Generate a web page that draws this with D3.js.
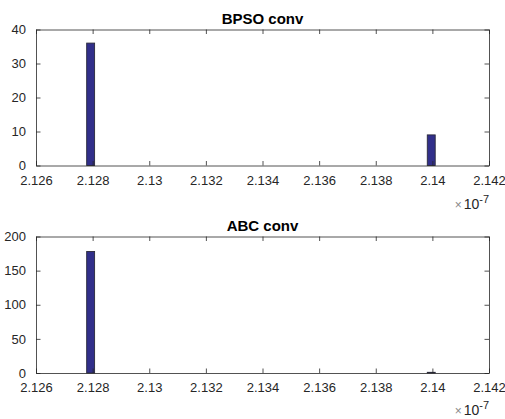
<!DOCTYPE html>
<html>
<head>
<meta charset="utf-8">
<script src="https://d3js.org/d3.v7.min.js"></script>
<style>
  html, body { margin: 0; padding: 0; background: #ffffff; }
  svg { display: block; }
  text { font-family: "Liberation Sans", Arial, Helvetica, sans-serif; }
</style>
</head>
<body>
<svg id="chart" width="505" height="419"></svg>
<script>
// ---- data (x values in units of 1e-7) ----
const xTickValues = [2.126, 2.128, 2.130, 2.132, 2.134, 2.136, 2.138, 2.140, 2.142];
const xTickLabels = ["2.126", "2.128", "2.13", "2.132", "2.134", "2.136", "2.138", "2.14", "2.142"];
const binStart = 2.12779;
const binEnd = 2.14010;
const bpsoCounts = [36, 0, 0, 0, 0, 0, 0, 0, 0, 0, 0, 0, 0, 0, 0, 0, 0, 0, 0, 0, 0, 0,
                    0, 0, 0, 0, 0, 0, 0, 0, 0, 0, 0, 0, 0, 0, 0, 0, 0, 0, 0, 0, 0, 9];
const abcCounts  = [178, 0, 0, 0, 0, 0, 0, 0, 0, 0, 0, 0, 0, 0, 0, 0, 0, 0, 0, 0, 0, 0,
                    0, 0, 0, 0, 0, 0, 0, 0, 0, 0, 0, 0, 0, 0, 0, 0, 0, 0, 0, 0, 0, 1];
const bpsoYTicks = [0, 10, 20, 30, 40];
const abcYTicks  = [0, 50, 100, 150, 200];
const titles = ["BPSO conv", "ABC conv"];

// ---- drawing ----
const svg = d3.select("#chart");
const axisColor = "#262626";
const barFill = "#312f8a";
const barStroke = "#2a2a3a";
const left = 36, right = 489;
const tickLen = 4.5;

const x = d3.scaleLinear().domain([2.126, 2.142]).range([left, right]);

function drawPanel(top, bottom, title, counts, yTicks, expOffset) {
  const g = svg.append("g");
  const y = d3.scaleLinear().domain([yTicks[0], yTicks[yTicks.length - 1]]).range([bottom, top]);
  const nb = counts.length;
  const bw = (binEnd - binStart) / nb;
  const bins = counts.map((c, i) => ({x0: binStart + i * bw, x1: binStart + (i + 1) * bw, c}));

  g.append("g").selectAll("rect").data(bins).join("rect")
    .attr("x", d => x(d.x0))
    .attr("width", d => x(d.x1) - x(d.x0))
    .attr("y", d => y(d.c))
    .attr("height", d => y(0) - y(d.c))
    .attr("fill", barFill)
    .attr("stroke", barStroke)
    .attr("stroke-width", 0.9);

  const xb = d3.axisBottom(x).tickValues(xTickValues)
    .tickFormat((d, i) => xTickLabels[i]).tickSizeInner(-tickLen).tickSizeOuter(0).tickPadding(10);
  const gxb = g.append("g").attr("transform", `translate(0,${bottom})`).call(xb);
  const xt = d3.axisTop(x).tickValues(xTickValues).tickFormat("").tickSizeInner(-tickLen).tickSizeOuter(0);
  const gxt = g.append("g").attr("transform", `translate(0,${top})`).call(xt);
  const yl = d3.axisLeft(y).tickValues(yTicks).tickFormat(d3.format("d"))
    .tickSizeInner(-tickLen).tickSizeOuter(0).tickPadding(10);
  const gyl = g.append("g").attr("transform", `translate(${left},0)`).call(yl);
  const yr = d3.axisRight(y).tickValues(yTicks).tickFormat("").tickSizeInner(-tickLen).tickSizeOuter(0);
  const gyr = g.append("g").attr("transform", `translate(${right},0)`).call(yr);

  [gxb, gxt, gyl, gyr].forEach(a => {
    a.select(".domain").attr("stroke", axisColor).attr("stroke-width", 0.8);
    a.selectAll(".tick line").attr("stroke", axisColor).attr("stroke-width", 0.8);
    a.selectAll(".tick text").attr("fill", axisColor).style("font-size", "13px");
  });
  gxb.selectAll(".tick text").attr("dy", "0.71em");

  g.append("text")
    .attr("x", (left + right) / 2).attr("y", top - 6)
    .attr("text-anchor", "middle")
    .attr("fill", "#000")
    .style("font-size", "15px").style("font-weight", "bold")
    .text(title);

  const ex = g.append("text")
    .attr("x", right).attr("y", bottom + expOffset)
    .attr("text-anchor", "end")
    .attr("fill", axisColor)
    .style("font-size", "14px");
  ex.append("tspan").text("\u00d7").style("font-size", "12px").attr("fill", "#888");
  ex.append("tspan").text("10").attr("dx", 2);
  ex.append("tspan").text("-7").attr("dy", -6).style("font-size", "11px");
}

drawPanel(29.5, 165.5, titles[0], bpsoCounts, bpsoYTicks, 43.5);
drawPanel(236.5, 373, titles[1], abcCounts, abcYTicks, 42);
</script>
</body>
</html>
